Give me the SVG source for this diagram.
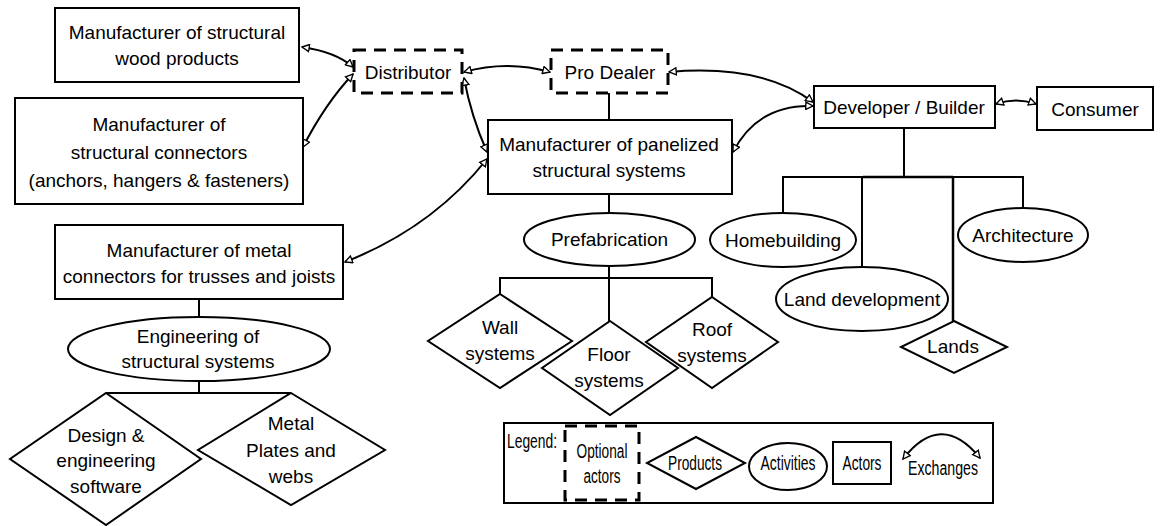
<svg xmlns="http://www.w3.org/2000/svg" width="1162" height="526" viewBox="0 0 1162 526">
<style>
.box{fill:#fff;stroke:#000;stroke-width:2}
.opt{fill:#fff;stroke:#000;stroke-width:3;stroke-dasharray:12 8}
.ln{fill:none;stroke:#000;stroke-width:2}
.ex{fill:none;stroke:#000;stroke-width:2;marker-start:url(#ah);marker-end:url(#ah)}
text{font-family:"Liberation Sans",Arial,sans-serif;font-size:19px;fill:#000;text-anchor:middle}
.lg{font-size:20px}
</style>
<defs>
<marker id="ah" viewBox="0 0 10 10" refX="9" refY="5" markerWidth="9" markerHeight="9" markerUnits="userSpaceOnUse" orient="auto-start-reverse">
<path d="M1,1 L9,5 L1,9 z" fill="#fff" stroke="#000" stroke-width="1.5"/>
</marker>
</defs>
<rect x="0" y="0" width="1162" height="526" fill="#fff"/>
<g id="connectors">
<path class="ex" d="M302,47 Q336,52 353,67"/>
<path class="ex" d="M303,147 Q325,104 353,74"/>
<path class="ex" d="M464,72 Q507,60 550,72"/>
<path class="ex" d="M464,78 Q471,116 487,152"/>
<path class="ex" d="M345,262 Q432,228 487,159"/>
<path class="ex" d="M669,72 Q762,64 813,102"/>
<path class="ex" d="M733,152 Q758,104 813,106"/>
<path class="ex" d="M996,104 Q1016,97 1036,104"/>
<path class="ln" d="M609,93 V120"/>
<path class="ln" d="M609,194 V213"/>
<path class="ln" d="M609,266 V321 M500,294 V278 H712 V297"/>
<path class="ln" d="M904,128 V177 M783,213 V177 H1023 V208 M862,267 V177"/>
<path class="ln" d="M953,177 V321" style="stroke-width:2.5"/>
<path class="ln" d="M863,177 H953" style="stroke-width:2.5"/>
<path class="ln" d="M199,299 V317"/>
<path class="ln" d="M199,381 V393 M106,393 H291"/>
</g>
<g id="wood">
<rect class="box" x="55" y="8" width="244" height="74"/>
<text x="177" y="39">Manufacturer of structural</text>
<text x="177" y="65">wood products</text>
</g>
<g id="connectorsmfr">
<rect class="box" x="15" y="98" width="288" height="106"/>
<text x="159" y="131">Manufacturer of</text>
<text x="159" y="159">structural connectors</text>
<text x="159" y="187">(anchors, hangers &amp; fasteners)</text>
</g>
<g id="distributor">
<rect class="opt" x="354" y="50" width="108" height="43"/>
<text x="408" y="79">Distributor</text>
</g>
<g id="prodealer">
<rect class="opt" x="551" y="50" width="117" height="43"/>
<text x="610" y="79">Pro Dealer</text>
</g>
<g id="panelized">
<rect class="box" x="488" y="120" width="244" height="74"/>
<text x="609" y="151">Manufacturer of panelized</text>
<text x="609" y="177">structural systems</text>
</g>
<g id="developer">
<rect class="box" x="814" y="86" width="181" height="42"/>
<text x="904" y="114">Developer / Builder</text>
</g>
<g id="consumer">
<rect class="box" x="1037" y="87" width="116" height="43"/>
<text x="1095" y="116">Consumer</text>
</g>
<g id="homebuilding">
<ellipse class="box" cx="783" cy="240" rx="73" ry="27"/>
<text x="783" y="247">Homebuilding</text>
</g>
<g id="architecture">
<ellipse class="box" cx="1023" cy="235" rx="65" ry="27"/>
<text x="1023" y="242">Architecture</text>
</g>
<g id="landdev">
<ellipse class="box" cx="862" cy="299" rx="86" ry="32"/>
<text x="862" y="306">Land development</text>
</g>
<g id="lands">
<polygon class="box" points="954,321 1007,347 954,373 901,347"/>
<text x="953" y="353">Lands</text>
</g>
<g id="prefab">
<ellipse class="box" cx="609.5" cy="239.5" rx="85.5" ry="26.5"/>
<text x="609.5" y="246">Prefabrication</text>
</g>
<g id="wall">
<polygon class="box" points="500,294 572,341 500,388 428,341"/>
<text x="500" y="334">Wall</text>
<text x="500" y="360">systems</text>
</g>
<g id="roof">
<polygon class="box" points="712,297 778,342 712,388 646,342"/>
<text x="712" y="336">Roof</text>
<text x="712" y="362">systems</text>
</g>
<g id="floor">
<polygon class="box" points="610,321 678,368 610,415 542,368"/>
<text x="609" y="361">Floor</text>
<text x="609" y="387">systems</text>
</g>
<g id="metalmfr">
<rect class="box" x="55" y="225" width="288" height="74"/>
<text x="199" y="257">Manufacturer of metal</text>
<text x="199" y="283">connectors for trusses and joists</text>
</g>
<g id="engineering">
<ellipse class="box" cx="199" cy="349" rx="131" ry="32"/>
<text x="198" y="343">Engineering of</text>
<text x="198" y="368">structural systems</text>
</g>
<g id="design">
<polygon class="box" points="106,393 201,459 106,525 10,459"/>
<text x="106" y="442">Design &amp;</text>
<text x="106" y="467">engineering</text>
<text x="106" y="493">software</text>
</g>
<g id="plates">
<polygon class="box" points="291,393 385,450 291,505 198,450"/>
<text x="291" y="430">Metal</text>
<text x="291" y="457">Plates and</text>
<text x="291" y="483">webs</text>
</g>
<g id="legend">
<rect class="box" x="504" y="423" width="489" height="80"/>
<text class="lg" x="507" y="448" style="text-anchor:start" textLength="50" lengthAdjust="spacingAndGlyphs">Legend:</text>
<rect class="opt" x="565" y="426" width="74" height="74"/>
<text class="lg" x="602" y="458" textLength="51" lengthAdjust="spacingAndGlyphs">Optional</text>
<text class="lg" x="602" y="483" textLength="37" lengthAdjust="spacingAndGlyphs">actors</text>
<polygon class="box" points="696,437 745,463 696,489 647,463"/>
<text class="lg" x="695" y="470" textLength="54" lengthAdjust="spacingAndGlyphs">Products</text>
<ellipse class="box" cx="788" cy="466.5" rx="39" ry="23.5"/>
<text class="lg" x="788" y="470" textLength="55" lengthAdjust="spacingAndGlyphs">Activities</text>
<rect class="box" x="833" y="442" width="58" height="42"/>
<text class="lg" x="862" y="470" textLength="39" lengthAdjust="spacingAndGlyphs">Actors</text>
<path class="ex" d="M903,459 Q941,410 980,458"/>
<text class="lg" x="943" y="475" textLength="70" lengthAdjust="spacingAndGlyphs">Exchanges</text>
</g>
</svg>
